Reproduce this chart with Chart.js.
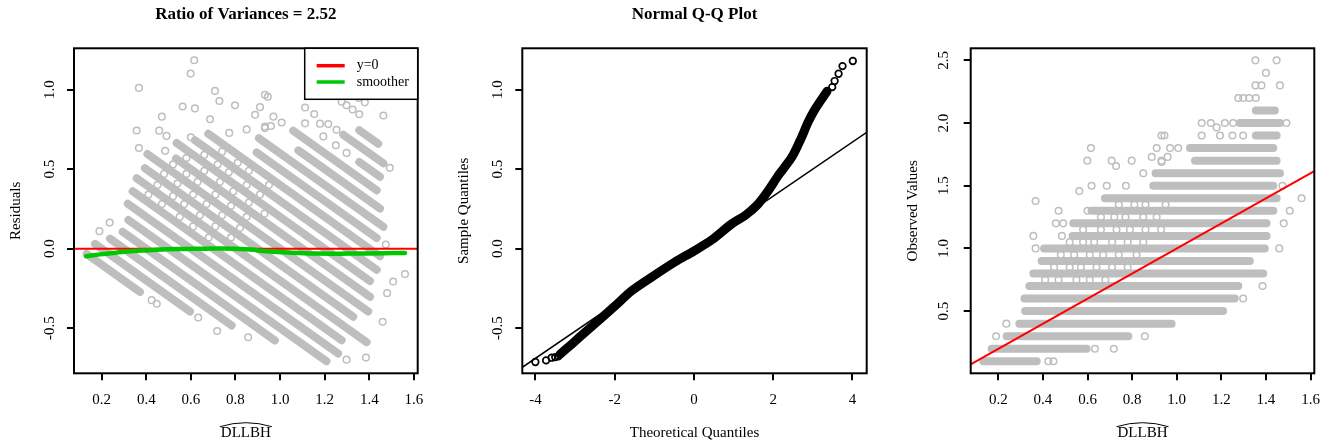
<!DOCTYPE html>
<html>
<head>
<meta charset="utf-8">
<script src="https://cdn.jsdelivr.net/npm/chart.js@4.4.1/dist/chart.umd.min.js"></script>
<style>
  html, body { margin: 0; padding: 0; background: #fff; }
  #wrap { position: relative; width: 1335px; height: 445px; }
  #wrap canvas { position: absolute; top: 0; }
</style>
</head>
<body>
<div id="wrap">
  <canvas id="residPlot" width="445" height="445" style="left:0"></canvas>
  <canvas id="qqPlot" width="445" height="445" style="left:445px"></canvas>
  <canvas id="obsPlot" width="445" height="445" style="left:890px"></canvas>
</div>
<script>
// dense runs of points: observed level and the span of fitted values covered
const runLevel = [0.1, 0.2, 0.3, 0.4, 0.5, 0.6, 0.7, 0.8, 0.9, 1.0, 1.1, 1.2, 1.3, 1.4, 1.5, 1.6, 1.7, 1.8, 1.9, 2.0, 2.1];
const runFrom  = [0.133, 0.170, 0.237, 0.294, 0.320, 0.317, 0.339, 0.357, 0.394, 0.405, 0.533, 0.536, 0.618, 0.678, 0.895, 0.905, 1.082, 1.059, 1.355, 1.283, 1.355];
const runTo    = [0.372, 0.596, 0.783, 0.977, 1.208, 1.260, 1.276, 1.388, 1.328, 1.395, 1.403, 1.403, 1.433, 1.448, 1.433, 1.463, 1.448, 1.433, 1.448, 1.463, 1.440];

// scattered single points (fitted, observed)
const looseFitted = [
  0.424, 0.447, 0.633, 0.718, 0.190, 0.857, 0.236, 1.298, 1.385,
  0.367, 1.460, 0.357, 0.485, 0.458, 0.491, 1.480, 0.470, 0.600, 1.507,
  1.560, 0.618, 0.686, 0.772, 1.474, 0.850, 0.599, 0.708, 0.798, 0.932,
  0.615, 0.910, 0.970, 1.007, 0.932, 0.945, 1.112, 1.194, 1.250, 1.298,
  1.112, 1.153, 1.216, 1.253, 1.492, 1.276, 1.298, 1.325, 1.355,
  1.353, 1.380, 1.463, 1.400, 1.353, 1.448,
  0.367, 0.563, 0.728, 0.888, 0.932, 0.959, 1.179
];
const looseObserved = [
  0.1, 0.1, 0.2, 0.2, 0.3, 0.3, 0.4, 0.6, 0.7,
  1.0, 1.0, 1.1, 1.1, 1.2, 1.2, 1.2, 1.3, 1.3, 1.3,
  1.4, 1.5, 1.5, 1.5, 1.5, 1.6, 1.7, 1.7, 1.7, 1.7,
  1.8, 1.8, 1.8, 1.8, 1.9, 1.9, 1.9, 1.9, 1.9, 1.9,
  2.0, 2.0, 2.0, 2.0, 2.0, 2.2, 2.2, 2.2, 2.2,
  2.3, 2.3, 2.3, 2.4, 2.5, 2.5,
  1.378, 1.457, 1.657, 1.730, 1.690, 1.730, 1.965
];

// off-grid points packed between the rows in the middle of the cloud
const midFitted = [
  0.41, 0.47, 0.55, 0.61, 0.68,
  0.45, 0.52, 0.57, 0.64, 0.71, 0.78,
  0.48, 0.54, 0.61, 0.67, 0.74, 0.82,
  0.52, 0.58, 0.63, 0.71, 0.78, 0.85,
  0.58, 0.66, 0.73, 0.79, 0.86, 0.93,
  0.66, 0.72, 0.77, 0.85, 0.91,
  0.74, 0.81, 0.86, 0.95
];
const midObserved = [
  0.75, 0.75, 0.75, 0.75, 0.75,
  0.85, 0.85, 0.85, 0.85, 0.85, 0.85,
  0.95, 0.95, 0.95, 0.95, 0.95, 0.95,
  1.05, 1.05, 1.05, 1.05, 1.05, 1.05,
  1.15, 1.15, 1.15, 1.15, 1.15, 1.15,
  1.25, 1.25, 1.25, 1.25, 1.25,
  1.35, 1.35, 1.35, 1.35
];

// loess smoother through the residuals
const smoothX = [0.13, 0.193, 0.267, 0.342, 0.417, 0.49, 0.58, 0.67, 0.79, 0.865, 0.94, 1.014, 1.164, 1.313, 1.463, 1.56];
const smoothY = [-0.048, -0.036, -0.025, -0.015, -0.010, -0.004, -0.002, 0, 0, -0.006, -0.017, -0.023, -0.031, -0.031, -0.029, -0.027];

// normal Q-Q: body of the curve and the separate tail points
const qqTheo   = [-3.38, -3.08, -2.72, -2.33, -1.99, -1.57, -1.06, -0.48, 0.00, 0.45, 0.95, 1.30, 1.60, 1.85, 2.13, 2.47, 2.68, 2.89, 3.05, 3.36];
const qqSample = [-0.665, -0.60, -0.52, -0.435, -0.36, -0.265, -0.178, -0.084, -0.015, 0.055, 0.155, 0.21, 0.275, 0.355, 0.46, 0.575, 0.68, 0.80, 0.875, 0.99];
const qqTailTheo   = [-4.00, -3.73, -3.59, -3.50, -3.42, 3.49, 3.55, 3.65, 3.75, 4.01];
const qqTailSample = [-0.713, -0.703, -0.686, -0.682, -0.677, 1.016, 1.054, 1.100, 1.148, 1.180];
const qqSlope = 0.17;
const qqIntercept = -0.01;

// axis ticks
const fittedTicks = [0.2, 0.4, 0.6, 0.8, 1.0, 1.2, 1.4, 1.6];
const residTicks = [-0.5, 0.0, 0.5, 1.0];
const theoTicks = [-4, -2, 0, 2, 4];
const obsTicks = [0.5, 1.0, 1.5, 2.0, 2.5];

const fitRange = [0.076, 1.617];
const residRange = [-0.784, 1.26];
const theoRange = [-4.33, 4.36];
const obsRange = [0.004, 2.596];

const serif = '"Liberation Serif", "Times New Roman", serif';
const GREY = '#bebebe';
Chart.defaults.font.family = serif;
Chart.defaults.color = '#000';
Chart.defaults.animation = false;

const allFitted = looseFitted.concat(midFitted);
const allObserved = looseObserved.concat(midObserved);

// box round the plot region
const frameBox = {
  id: 'frameBox',
  afterDatasetsDraw(chart) {
    const { ctx, chartArea: a } = chart;
    ctx.save();
    ctx.strokeStyle = '#000';
    ctx.lineWidth = 2;
    ctx.strokeRect(a.left, a.top, a.right - a.left, a.bottom - a.top);
    ctx.restore();
  }
};

// legend tucked into the top right corner of the plot
const cornerLegend = {
  id: 'cornerLegend',
  afterDraw(chart) {
    const items = chart.data.datasets.filter(d => d.label);
    const { ctx, chartArea: a } = chart;
    const w = 113, h = 51;
    const x = a.right - w, y = a.top;
    ctx.save();
    ctx.fillStyle = '#fff';
    ctx.fillRect(x, y, w, h);
    ctx.strokeStyle = '#000';
    ctx.lineWidth = 1.5;
    ctx.strokeRect(x, y, w, h);
    ctx.font = '14px ' + serif;
    ctx.textBaseline = 'middle';
    items.forEach((d, i) => {
      const ly = y + 17.4 + i * 16.3;
      ctx.strokeStyle = d.borderColor;
      ctx.lineWidth = 3.5;
      ctx.beginPath();
      ctx.moveTo(x + 12, ly);
      ctx.lineTo(x + 40, ly);
      ctx.stroke();
      ctx.fillStyle = '#000';
      ctx.fillText(d.label, x + 52, ly);
    });
    ctx.restore();
  }
};

// wide hat over the x axis title (fitted value)
const hatTitle = {
  id: 'hatTitle',
  afterDraw(chart) {
    const s = chart.scales.x;
    const t = s.options.title;
    const size = t.font.size;
    const { ctx } = chart;
    ctx.save();
    ctx.font = size + 'px ' + serif;
    const w = ctx.measureText(t.text).width;
    const cx = (s.left + s.right) / 2;
    const cy = s.bottom - size * 0.6 - t.padding.bottom;
    const yEnd = cy - 6.6;
    ctx.strokeStyle = '#000';
    ctx.lineWidth = 1;
    ctx.beginPath();
    ctx.moveTo(cx - w / 2 - 1, yEnd);
    ctx.quadraticCurveTo(cx, yEnd - 8, cx + w / 2 + 1, yEnd);
    ctx.stroke();
    ctx.restore();
  }
};

function xAxis(range, ticks, digits, title) {
  return {
    type: 'linear', position: 'bottom', min: range[0], max: range[1],
    afterFit: s => { s.height = 71; },
    afterBuildTicks: s => { s.ticks = ticks.map(v => ({ value: v })); },
    grid: { drawOnChartArea: false, drawTicks: true, tickLength: 7, color: '#000', lineWidth: 2 },
    border: { display: false },
    ticks: { font: { size: 15 }, padding: 10.7, maxRotation: 0, autoSkip: false, callback: v => v.toFixed(digits) },
    title: { display: true, text: title, font: { size: 15 }, padding: { top: 0, bottom: 2 } }
  };
}

function yAxis(range, ticks, pad, title) {
  return {
    type: 'linear', position: 'left', min: range[0], max: range[1],
    afterFit: s => { s.width = 67; },
    afterBuildTicks: s => { s.ticks = ticks.map(v => ({ value: v })); },
    grid: { drawOnChartArea: false, drawTicks: true, tickLength: 7, color: '#000', lineWidth: 2 },
    border: { display: false },
    ticks: { font: { size: 15 }, padding: pad, minRotation: 90, maxRotation: 90, crossAlign: 'center', autoSkip: false, callback: v => v.toFixed(1) },
    title: { display: true, text: title, font: { size: 15 }, padding: { top: 0, bottom: 0 } }
  };
}

function titleOpts(text) {
  return {
    display: !!text, text, fullSize: false,
    font: { size: 17, weight: 'bold' },
    padding: { top: 4, bottom: 23.9 }
  };
}

function baseOptions(pad, title) {
  return {
    responsive: false,
    devicePixelRatio: 1,
    layout: { padding: pad },
    plugins: { legend: { display: false }, tooltip: { enabled: false }, title: titleOpts(title) }
  };
}

const pointStyle = { pointRadius: 3.3, pointBorderWidth: 1.5, pointBackgroundColor: 'rgba(0,0,0,0)', showLine: false };

// runs drawn as thick strokes, broken apart with null points
function runPoints(yOf) {
  const pts = [];
  runLevel.forEach((lvl, i) => {
    pts.push({ x: runFrom[i], y: yOf(lvl, runFrom[i]) });
    pts.push({ x: runTo[i], y: yOf(lvl, runTo[i]) });
    pts.push({ x: runTo[i], y: null });
  });
  return pts;
}

// residuals vs fitted
new Chart(document.getElementById('residPlot'), {
  type: 'scatter',
  data: {
    datasets: [
      { type: 'line', label: 'y=0', order: 1, data: [{ x: fitRange[0], y: 0 }, { x: fitRange[1], y: 0 }],
        borderColor: '#ff0000', borderWidth: 2, pointRadius: 0 },
      { type: 'line', label: 'smoother', order: 0, data: smoothX.map((x, i) => ({ x, y: smoothY[i] })),
        borderColor: '#00c800', borderWidth: 4.5, pointRadius: 0, tension: 0.4, borderCapStyle: 'round' },
      { order: 2, data: allFitted.map((x, i) => ({ x, y: allObserved[i] - x })),
        pointBorderColor: GREY, ...pointStyle },
      { type: 'line', order: 3, data: runPoints((lvl, x) => lvl - x), spanGaps: false,
        borderColor: GREY, borderWidth: 8, borderCapStyle: 'round', pointRadius: 0 }
    ]
  },
  options: Object.assign(baseOptions({ left: 7, right: 27.3, top: 0, bottom: 0.7 }, 'Ratio of Variances = 2.52'), {
    scales: { x: xAxis(fitRange, fittedTicks, 1, 'DLLBH'), y: yAxis(residRange, residTicks, 5.1, 'Residuals') }
  }),
  plugins: [frameBox, cornerLegend, hatTitle]
});

// normal Q-Q plot of the residuals
new Chart(document.getElementById('qqPlot'), {
  type: 'scatter',
  data: {
    datasets: [
      { type: 'line', order: 0, data: theoRange.map(x => ({ x, y: qqIntercept + qqSlope * x })),
        borderColor: '#000', borderWidth: 1.5, pointRadius: 0 },
      { order: 1, data: qqTailTheo.map((x, i) => ({ x, y: qqTailSample[i] })),
        pointBorderColor: '#000', pointRadius: 3.3, pointBorderWidth: 1.7, pointBackgroundColor: 'rgba(0,0,0,0)', showLine: false },
      { type: 'line', order: 2, data: qqTheo.map((x, i) => ({ x, y: qqSample[i] })),
        borderColor: '#000', borderWidth: 9, borderCapStyle: 'round', borderJoinStyle: 'round', tension: 0.3, pointRadius: 0 }
    ]
  },
  options: Object.assign(baseOptions({ left: 10.3, right: 23.3, top: 0, bottom: 0.7 }, 'Normal Q-Q Plot'), {
    scales: { x: xAxis(theoRange, theoTicks, 0, 'Theoretical Quantiles'), y: yAxis(residRange, residTicks, 5.1, 'Sample Quantiles') }
  }),
  plugins: [frameBox]
});

// observed vs fitted
new Chart(document.getElementById('obsPlot'), {
  type: 'scatter',
  data: {
    datasets: [
      { type: 'line', order: 0, data: fitRange.map(x => ({ x, y: x })),
        borderColor: '#ff0000', borderWidth: 2, pointRadius: 0 },
      { order: 1, data: allFitted.map((x, i) => ({ x, y: allObserved[i] })),
        pointBorderColor: GREY, ...pointStyle },
      { type: 'line', order: 2, data: runPoints(lvl => lvl), spanGaps: false,
        borderColor: GREY, borderWidth: 8, borderCapStyle: 'round', pointRadius: 0 }
    ]
  },
  options: Object.assign(baseOptions({ left: 13.7, right: 20.7, top: 48.3, bottom: 0.7 }, ''), {
    scales: { x: xAxis(fitRange, fittedTicks, 1, 'DLLBH'), y: yAxis(obsRange, obsTicks, 10.6, 'Observed Values') }
  }),
  plugins: [frameBox, hatTitle]
});
</script>
</body>
</html>
